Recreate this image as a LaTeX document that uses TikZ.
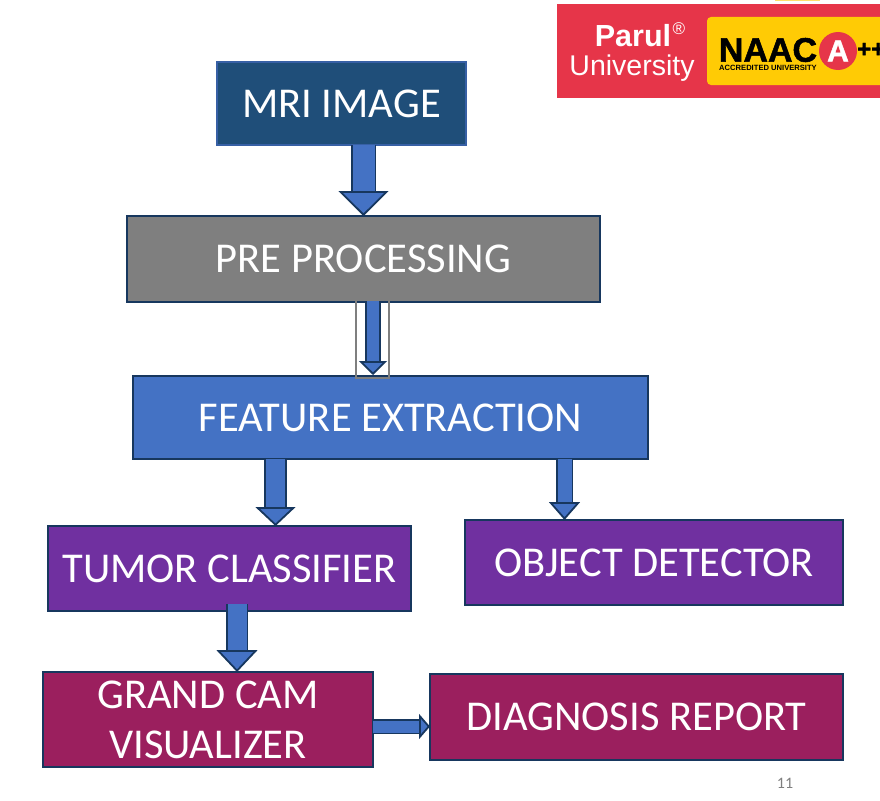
\documentclass[tikz,border=0pt]{standalone}
\usepackage{fontspec}
\setmainfont{Carlito}
\newfontfamily\logofont{Liberation Sans}
\newfontfamily\naacfont[FakeBold=1.5]{Liberation Sans Bold}
\usetikzlibrary{arrows.meta}
\definecolor{mriblue}{HTML}{1F4E79}
\definecolor{featblue}{HTML}{4472C4}
\definecolor{edgenavy}{HTML}{17375E}
\definecolor{stagegray}{HTML}{7F7F7F}
\definecolor{stagepurple}{HTML}{7030A0}
\definecolor{stagewine}{HTML}{9B1F5E}
\definecolor{logored}{HTML}{E63549}
\definecolor{logoyellow}{HTML}{FFCB05}
\tikzset{
  stagebox/.style={draw=edgenavy, line width=1.9pt, anchor=north west, inner sep=0pt, outer sep=0pt,
    align=center, text=white, font=\fontsize{42.5}{48}\selectfont},
  blockarrow/.style={draw=edgenavy, line width=1.8pt, double=featblue, line cap=butt}
}
\begin{document}
\begin{tikzpicture}[x=1pt, y=-1pt]
  \useasboundingbox (0,0) rectangle (880,800);
  % logo strip, top right
  \fill[logoyellow!60] (775,0) rectangle (820,1.5);
  \node[fill=logored, anchor=north west, minimum width=323pt, minimum height=94pt, inner sep=0pt, outer sep=0pt] (logo) at (557,4) {};
  \fill[logoyellow, rounded corners=4pt] (707,17) rectangle (884,85);
  \node[text=white, font=\logofont\bfseries\fontsize{30.5}{30}\selectfont, inner sep=0pt] (parul) at (633,36) {Parul};
  \node[text=white, font=\logofont\fontsize{17}{17}\selectfont, inner sep=0pt] (reg) at (679,29) {®};
  \node[text=white, font=\logofont\fontsize{28.5}{29}\selectfont, inner sep=0pt] (univ) at (632,68) {University};
  \node[text=black, font=\naacfont\fontsize{34}{34}\selectfont, inner sep=0pt] (naac) at (768,50) {NAAC};
  \node[text=black, font=\logofont\bfseries\fontsize{7.6}{8}\selectfont, inner sep=0pt] (accr) at (768,67.5) {ACCREDITED UNIVERSITY};
  \node[circle, fill=logored, text=white, minimum size=38pt, inner sep=0pt, font=\naacfont\fontsize{30}{30}\selectfont] (grade) at (838,51) {A};
  \node[text=black, font=\naacfont\fontsize{24}{24}\selectfont, inner sep=0pt, anchor=west] (plus) at (857,50) {++};
  % pipeline boxes
  \node[stagebox, fill=mriblue, draw=featblue!70!edgenavy, minimum width=249pt, minimum height=83pt] (mri) at (217,62) {\raisebox{-1pt}{MRI IMAGE}};
  \node[stagebox, fill=stagegray, minimum width=473pt, minimum height=86pt] (pre) at (127,216) {\raisebox{-1pt}{PRE PROCESSING}};
  \node[stagebox, fill=featblue, minimum width=515pt, minimum height=83pt] (feat) at (133,376) {\raisebox{-1pt}{FEATURE EXTRACTION}};
  \node[stagebox, fill=stagepurple, minimum width=363pt, minimum height=85pt] (tumor) at (48,526) {\raisebox{-1pt}{TUMOR CLASSIFIER}};
  \node[stagebox, fill=stagepurple, minimum width=378pt, minimum height=85pt] (object) at (465,520) {\raisebox{-1pt}{OBJECT DETECTOR}};
  \node[stagebox, fill=stagewine, minimum width=330pt, minimum height=95pt] (grand) at (43,672) {GRAND CAM\\[2pt]VISUALIZER};
  \node[stagebox, fill=stagewine, minimum width=413pt, minimum height=86pt] (diag) at (430,674) {\raisebox{-1pt}{DIAGNOSIS REPORT}};
  % frame round the second arrow
  \node[draw=stagegray, line width=2.6pt, anchor=north west, minimum width=33pt, minimum height=81pt, inner sep=0pt, outer sep=0pt] (frame) at (356,297) {};
  % arrows
  \draw[blockarrow, double distance=22pt, -{Triangle[length=25pt, width=50pt, fill=featblue]}]
    ([xshift=22pt]mri.south) -- (pre.north);
  \draw[blockarrow, double distance=12pt, -{Triangle[length=14pt, width=28pt, fill=featblue]}]
    ([xshift=0.5pt, yshift=-4pt]frame.north) -- ([xshift=0.5pt, yshift=3pt]frame.south);
  \draw[blockarrow, double distance=19pt, -{Triangle[length=19pt, width=40pt, fill=featblue]}]
    ([xshift=-115pt]feat.south) -- ([xshift=46pt]tumor.north);
  \draw[blockarrow, double distance=14pt, -{Triangle[length=18pt, width=31pt, fill=featblue]}]
    ([xshift=174pt]feat.south) -- ([xshift=-89.5pt]object.north);
  \draw[blockarrow, double distance=19pt, -{Triangle[length=22pt, width=41pt, fill=featblue]}]
    ([xshift=7.5pt, yshift=7pt]tumor.south) -- ([xshift=29pt]grand.north);
  \draw[blockarrow, double distance=12pt, -{Triangle[length=11pt, width=25pt, fill=featblue]}]
    ([yshift=-7pt]grand.east) -- ([yshift=-9.5pt]diag.west);
  \node[text=stagegray, font=\fontsize{16}{16}\selectfont] (page) at (785,783) {11};
\end{tikzpicture}
\end{document}
